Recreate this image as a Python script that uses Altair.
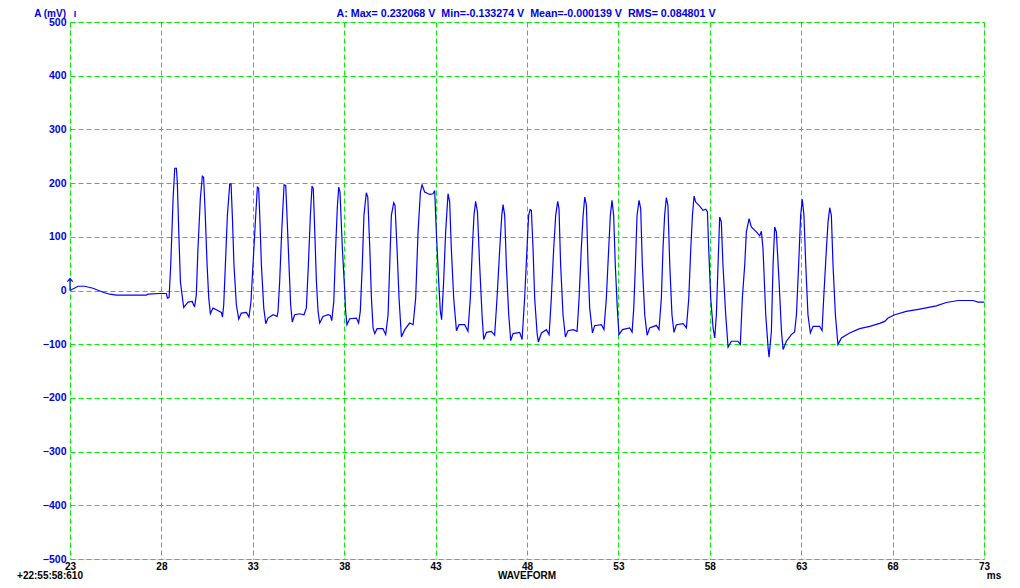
import altair as alt
import pandas as pd

# ---- waveform samples (ms, mV) ----
time_ms = [
    23.0, 23.44, 23.80, 24.26, 24.81, 25.17, 25.54, 27.18, 27.27, 27.91, 28.27, 28.33, 28.42,
    28.51, 28.64, 28.73, 28.82, 28.87, 28.95, 29.04, 29.13, 29.22, 29.33, 29.46, 29.69, 29.77, 29.82,
    29.91, 30.00, 30.13, 30.24, 30.31, 30.40, 30.50, 30.59, 30.68, 30.82, 31.01, 31.28, 31.34,
    31.41, 31.50, 31.61, 31.74, 31.81, 31.88, 31.97, 32.10, 32.23, 32.37, 32.65, 32.79,
    32.90, 33.01, 33.16, 33.25, 33.32, 33.38, 33.47, 33.60, 33.71, 33.83, 34.11, 34.33,
    34.38, 34.47, 34.58, 34.71, 34.80, 34.87, 34.98, 35.07, 35.16, 35.29, 35.57, 35.80,
    35.93, 36.04, 36.15, 36.24, 36.31, 36.39, 36.48, 36.57, 36.66, 36.84, 37.12, 37.24, 37.32,
    37.43, 37.53, 37.63, 37.70, 37.77, 37.90, 38.03, 38.08, 38.15, 38.30, 38.67, 38.79,
    38.88, 38.99, 39.08, 39.21, 39.29, 39.40, 39.49, 39.58, 39.67, 39.80, 40.12, 40.27,
    40.40, 40.49, 40.58, 40.71, 40.78, 40.89, 41.00, 41.13, 41.31, 41.58, 41.77,
    41.91, 42.04, 42.17, 42.26, 42.40, 42.68, 42.86, 42.95, 43.04, 43.17, 43.26, 43.33,
    43.44, 43.55, 43.68, 43.77, 43.86, 43.99, 44.14, 44.28, 44.59, 44.77,
    44.90, 45.01, 45.10, 45.19, 45.29, 45.41, 45.54, 45.63, 45.78, 46.05, 46.23,
    46.36, 46.51, 46.62, 46.69, 46.78, 46.87, 47.00, 47.11, 47.24, 47.60, 47.73,
    47.87, 48.00, 48.09, 48.17, 48.24, 48.33, 48.42, 48.55, 48.62, 48.79, 49.06, 49.21,
    49.33, 49.46, 49.57, 49.68, 49.75, 49.84, 49.97, 50.10, 50.24, 50.52, 50.74,
    50.85, 50.97, 51.07, 51.16, 51.25, 51.34, 51.43, 51.58, 51.70, 52.07, 52.21,
    52.34, 52.47, 52.56, 52.65, 52.74, 52.83, 52.94, 53.03, 53.22, 53.62, 53.75,
    53.84, 53.93, 54.02, 54.13, 54.22, 54.31, 54.44, 54.57, 54.71, 55.08, 55.22,
    55.35, 55.44, 55.53, 55.62, 55.71, 55.81, 55.93, 56.04, 56.17, 56.54, 56.72,
    56.85, 56.96, 57.05, 57.14, 57.23, 57.41, 57.63, 57.78, 57.87, 57.94, 58.05, 58.18, 58.27,
    58.36, 58.45, 58.54, 58.63, 58.72, 58.87, 59.00, 59.18, 59.54, 59.67,
    59.78, 59.91, 60.00, 60.15, 60.27, 60.55, 60.73, 60.82, 60.91, 61.06, 61.19, 61.24,
    61.37, 61.46, 61.55, 61.64, 61.79, 61.92, 62.01, 62.19, 62.46, 62.64,
    62.74, 62.86, 62.97, 63.06, 63.15, 63.25, 63.37, 63.50, 63.65, 64.01, 64.14,
    64.23, 64.38, 64.47, 64.56, 64.65, 64.74, 64.87, 65.01,
    65.20, 65.65, 66.20, 66.75, 67.29, 67.57, 67.75, 68.12, 68.75, 69.48, 70.39, 70.94, 71.58, 72.40, 72.67, 73.0,
]
amp_mv = [
    0, 7.9, 7.9, 4.2, -3.2, -6.9, -8.7, -8.7, -6.9, -5.6, -5.6, -14.3, -13,
    47.5, 170.9, 227.7, 227.7, 201.8, 109.2, 16.6, -8.1, -31.6, -26.6, -21.7, -20.5, -27.9, -29.7,
    -8.1, 78.3, 170.9, 212.9, 211, 140, 47.5, -14.3, -43.3, -32.8, -35.9, -40.8, -49.5,
    -26.6, 47.5, 140, 198.7, 198.7, 140, 47.5, -26.6, -53.2, -42, -40.8, -49.5,
    -20.5, 47.5, 140, 192.5, 190.7, 140, 47.5, -32.8, -61.8, -51.3, -45.1, -48.2,
    -39, 16.6, 109.2, 196.8, 195.6, 140, 47.5, -26.6, -58.7, -45.1, -43.3, -45.1,
    -32.8, 47.5, 140, 194.4, 189.4, 109.2, 16.6, -39, -60.6, -48.2, -45.1, -46.4, -56.2,
    -20.5, 78.3, 158.6, 192.5, 183.3, 78.3, -1.9, -39, -63.7, -52.6, -51.3, -60.6,
    -39, 47.5, 140, 182, 174, 78.3, -14.3, -69.8, -80.3, -71.1, -71.1, -82.2,
    -45.1, 47.5, 140, 163.5, 158.6, 78.3, -14.3, -86.5, -72.9, -60.6, -63.7,
    -14.3, 109.2, 183.3, 196.8, 183.3, 178.9, 180.2, 186.3, 109.2, 16.6, -39, -54.4,
    16.6, 109.2, 180.2, 164.7, 78.3, -14.3, -74.8, -63.7, -63.7, -76,
    -14.3, 78.3, 140, 166, 146.2, 47.5, -45.1, -91.4, -77.9, -76, -83.4,
    -14.3, 78.3, 140, 159.8, 140, 47.5, -45.1, -93.3, -80.3, -77.9, -91.4,
    -14.3, 78.3, 140, 150.5, 149.3, 78.3, -14.3, -79.1, -95.8, -79.1, -72.9, -82.2,
    -14.3, 78.3, 140, 166, 152.4, 47.5, -45.1, -86.5, -74.8, -72.9, -76,
    -14.3, 78.3, 140, 174, 158.6, 47.5, -32.8, -79.1, -65.5, -63.7, -72.9,
    -14.3, 78.3, 140, 167.8, 140, 47.5, -32.8, -82.2, -72.9, -69.8, -77.2,
    -32.8, 47.5, 140, 167.8, 152.4, 47.5, -45.1, -83.4, -69.8, -64.9, -72.9,
    -14.3, 78.3, 140, 172.8, 158.6, 47.5, -45.1, -77.9, -63.7, -61.8, -69.8,
    -14.3, 78.3, 140, 175.9, 164.7, 158.6, 149.3, 151.2, 146.2, 78.3, -14.3, -69.8, -88.4,
    -45.1, 47.5, 137, 127.7, 47.5, -45.1, -105.6, -94.5, -94.5, -100.7,
    -14.3, 47.5, 109.2, 133.9, 118.4, 109.2, 101.8, 110.4, 78.3, -45.1, -106.9, -124.2,
    -76, 47.5, 118.4, 109.2, 16.6, -76, -110, -94.5, -82.2, -77.2,
    -45.1, 47.5, 140, 169.7, 140, 47.5, -45.1, -79.1, -66.7, -66.7, -74.8,
    -14.3, 78.3, 127.7, 154.2, 140, 47.5, -45.1, -100.7,
    -88.4, -79.1, -71.1, -66.7, -61.2, -57.5, -51.3, -45.1, -39, -34.6, -28.5, -22.3, -18.6, -18.6, -21.7, -21.7,
]

x_ticks = [23, 28, 33, 38, 43, 48, 53, 58, 63, 68, 73]
y_ticks = [-500, -400, -300, -200, -100, 0, 100, 200, 300, 400, 500]

trigger_t = [23.0]
trigger_v = [11.0]

NB = "\u00a0"
header_left = "A (mV)"
header_icon = "I"
stats_text = (
    "A: Max= 0.232068 V" + NB * 2 + "Min=-0.133274 V" + NB * 2
    + "Mean=-0.000139 V" + NB * 2 + "RMS= 0.084801 V"
)
time_stamp = "+22:55:58:610"
x_caption = "WAVEFORM"
x_unit = "ms"

GREEN = "#00f000"
BLUE = "#0000ff"
LABEL_BLUE = "#0000e0"
FONT = "Liberation Sans"

W, H = 914, 537

df = pd.DataFrame({"t": time_ms, "v": amp_mv})

x_enc = alt.X(
    "t:Q",
    scale=alt.Scale(domain=[23, 73], nice=False, zero=False),
    axis=alt.Axis(
        values=x_ticks, title=None, grid=True, gridColor=GREEN, gridDash=[5, 3],
        gridWidth=1, gridOpacity=1, domain=False, ticks=False, labelColor="black",
        labelFont=FONT, labelFontWeight="bold", labelFontSize=10, labelPadding=2,
        labelAngle=0, labelFlush=False, format="d",
    ),
)
y_enc = alt.Y(
    "v:Q",
    scale=alt.Scale(domain=[-500, 500], nice=False, zero=False),
    axis=alt.Axis(
        values=y_ticks, title=None, grid=True, gridColor=GREEN, gridDash=[5, 3],
        gridWidth=1, gridOpacity=1, domain=False, ticks=False, labelColor=LABEL_BLUE,
        labelFont=FONT, labelFontWeight="bold", labelFontSize=10.5, labelPadding=4,
        labelFlush=False, format="d",
    ),
)

line = alt.Chart(df).mark_line(color=BLUE, strokeWidth=1.2, interpolate="linear").encode(
    x=x_enc, y=y_enc, order="t:Q"
)

trig = alt.Chart(pd.DataFrame({"t": trigger_t, "v": trigger_v})).mark_point(
    shape="M 0 -1 L 0 1 M -0.45 -0.5 L 0 -1 L 0.45 -0.5",
    size=144, filled=False, color=BLUE, strokeWidth=1.2, opacity=1,
).encode(x="t:Q", y="v:Q")


def label(txt, x, y, color="black", align="center", size=10):
    return alt.Chart(pd.DataFrame({"s": [txt]})).mark_text(
        font=FONT, fontWeight="bold", fontSize=size, color=color, align=align,
        baseline="middle",
    ).encode(text="s:N", x=alt.value(x), y=alt.value(y))


texts = [
    label(header_left, -4, -8.5, LABEL_BLUE, "right", 10),
    label(header_icon, 5, -8.5, LABEL_BLUE, "center", 9),
    label(stats_text, 456, -8.5, LABEL_BLUE, "center", 10.7),
    label(time_stamp, -20, 554, "black", "center", 10),
    label(x_caption, 457, 554, "black", "center", 10),
    label(x_unit, 924, 554, "black", "center", 10),
]

chart = alt.layer(line, trig, *texts).properties(
    width=W, height=H,
    autosize=alt.AutoSizeParams(type="none"),
    padding={"left": 62, "top": 14, "right": 28, "bottom": 21},
).configure_view(
    stroke=GREEN, strokeWidth=1.5
).configure(background="white")

chart.save("out.html", embed_options={"renderer": "svg", "actions": False})
